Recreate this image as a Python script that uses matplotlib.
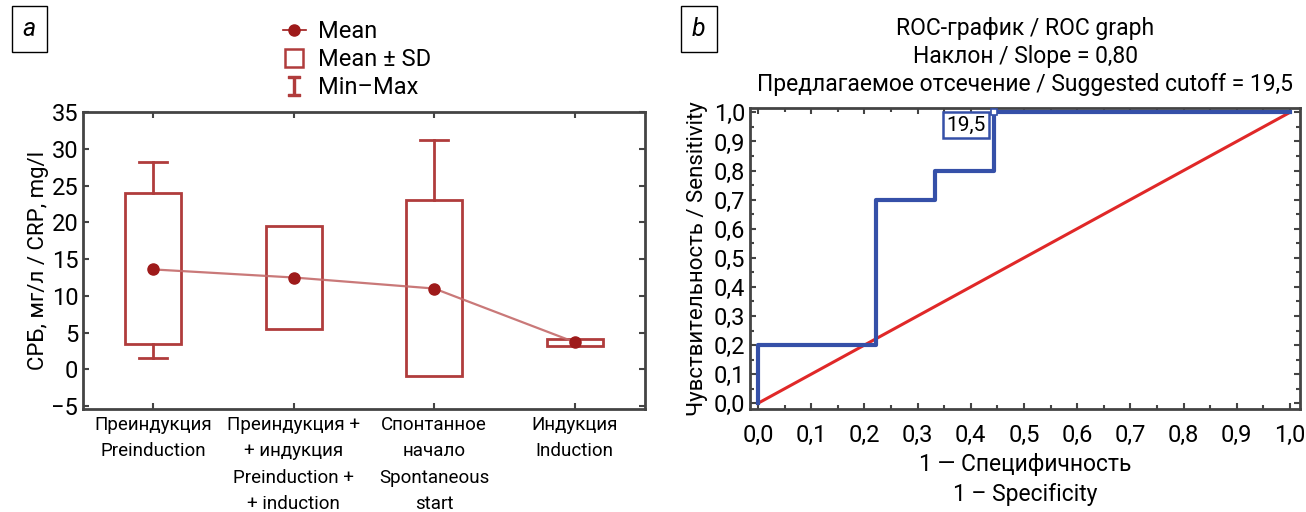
import numpy as np
import matplotlib
matplotlib.use("Agg")
import matplotlib.pyplot as plt
from matplotlib.lines import Line2D
from matplotlib.patches import Rectangle
from matplotlib.ticker import MultipleLocator, FuncFormatter

plt.rcParams['font.family'] = ['Liberation Sans Narrow', 'Roboto', 'DejaVu Sans']

# panel a: CRP by group
groups = ["Преиндукция\nPreinduction",
          "Преиндукция +\n+ индукция\nPreinduction +\n+ induction",
          "Спонтанное\nначало\nSpontaneous\nstart",
          "Индукция\nInduction"]
crp_mean = [13.6, 12.5, 11.0, 3.7]
crp_sd_low = [3.5, 5.5, -0.9, 3.2]
crp_sd_high = [24.0, 19.5, 23.0, 4.1]
crp_min = [1.5, 5.5, -0.9, 3.2]
crp_max = [28.2, 19.5, 31.2, 4.1]

# panel b: ROC curve
roc_fpr = [0.0, 0.0, 0.222, 0.222, 0.333, 0.333, 0.444, 0.444, 1.0]
roc_tpr = [0.0, 0.2, 0.2, 0.7, 0.7, 0.8, 0.8, 1.0, 1.0]
cutoff_fpr = 0.444
cutoff_tpr = 1.0
cutoff_label = "19,5"

RED = '#b03c3c'
DARKRED = '#9e1a1a'
BLUE = '#3550a8'
SPINE = '#444444'

fig = plt.figure(figsize=(13.06, 5.12), dpi=100)

# ---------- panel a ----------
ax1 = fig.add_axes([0.0636, 0.201, 0.4303, 0.580])
x = np.arange(1, len(groups) + 1)
bw = 0.4
cw = 0.2
for xi, lo, hi, mn, mx in zip(x, crp_sd_low, crp_sd_high, crp_min, crp_max):
    ax1.add_patch(Rectangle((xi - bw / 2, lo), bw, hi - lo, fill=False,
                            ec=RED, lw=2, zorder=2))
    if mx > hi:
        ax1.plot([xi, xi], [hi, mx], color=RED, lw=2, zorder=2)
        ax1.plot([xi - cw / 2, xi + cw / 2], [mx, mx], color=RED, lw=2, zorder=2)
    if mn < lo:
        ax1.plot([xi, xi], [lo, mn], color=RED, lw=2, zorder=2)
        ax1.plot([xi - cw / 2, xi + cw / 2], [mn, mn], color=RED, lw=2, zorder=2)
ax1.plot(x, crp_mean, color='#c46a6a', lw=1.6, alpha=0.9, zorder=3)
ax1.plot(x, crp_mean, 'o', color=DARKRED, ms=8, zorder=4)

ax1.set_xlim(0.5, 4.5)
ax1.set_ylim(-5.4, 35)
ax1.set_yticks(range(-5, 36, 5))
ax1.set_yticklabels(['\u22125' if v < 0 else str(v) for v in range(-5, 36, 5)])
ax1.set_xticks(x)
ax1.set_xticklabels(groups, fontsize=13.5, linespacing=1.6)
ax1.tick_params(axis='y', labelsize=17)
ax1.tick_params(axis='x', pad=5)
ax1.tick_params(direction='in', top=True, right=True, length=4, width=1.5,
                color=SPINE)
for s in ax1.spines.values():
    s.set_color(SPINE)
    s.set_linewidth(2)
ax1.set_ylabel("СРБ, мг/л / CRP, mg/l", fontsize=16, labelpad=2)

handles = [
    Line2D([], [], color=DARKRED, marker='o', ms=8, lw=1.2),
    Line2D([], [], color=RED, marker='s', ms=13, mfc='none', mew=1.8, lw=0),
    Line2D([], [], color=RED, marker=r'$\mathtt{I}$', ms=15, lw=0),
]
ax1.legend(handles, ["Mean", "Mean ± SD", "Min\u2013Max"], loc='lower left',
           bbox_to_anchor=(0.33, 0.995), frameon=False, fontsize=17,
           handlelength=1.0, handletextpad=0.5, labelspacing=0.22,
           borderaxespad=0.2)

fig.text(0.0225, 0.943, "a", fontsize=18, style='italic', ha='center', va='center',
         bbox=dict(boxstyle='square,pad=0.45', fc='white', ec='black', lw=1))

# ---------- panel b ----------
ax2 = fig.add_axes([0.5743, 0.201, 0.4211, 0.588])
ax2.plot([0, 1], [0, 1], color='#e02828', lw=2.2, zorder=2)
ax2.plot(roc_fpr, roc_tpr, color=BLUE, lw=3, zorder=3)
ax2.plot([cutoff_fpr], [cutoff_tpr], 's', ms=5, mfc='white', mec=BLUE, mew=1.2, zorder=4)
ax2.text(cutoff_fpr - 0.053, cutoff_tpr - 0.043, cutoff_label, fontsize=15,
         ha='center', va='center', zorder=5,
         bbox=dict(boxstyle='square,pad=0.15', fc='white', ec=BLUE, lw=1.8))

ax2.set_xlim(-0.015, 1.019)
ax2.set_ylim(-0.02, 1.015)
comma = FuncFormatter(lambda v, p: f"{v:.1f}".replace('.', ','))
for axis in (ax2.xaxis, ax2.yaxis):
    axis.set_major_locator(MultipleLocator(0.1))
    axis.set_minor_locator(MultipleLocator(0.05))
    axis.set_major_formatter(comma)
ax2.tick_params(which='both', direction='in', top=True, right=True,
                color=SPINE, width=1.5, labelsize=17)
ax2.tick_params(which='major', length=4)
ax2.tick_params(which='minor', length=3)
ax2.tick_params(axis='x', which='major', pad=11)
for s in ax2.spines.values():
    s.set_color(SPINE)
    s.set_linewidth(2)
ax2.set_title("ROC-график / ROC graph\nНаклон / Slope = 0,80\n"
              "Предлагаемое отсечение / Suggested cutoff = 19,5",
              fontsize=16.5, linespacing=1.3, pad=12)
ax2.set_ylabel("Чувствительность / Sensitivity", fontsize=16, labelpad=4)
ax2.set_xlabel("1 \u2014 Специфичность\n1 \u2013 Specificity", fontsize=16.5,
               linespacing=1.38, labelpad=4)

fig.text(0.535, 0.943, "b", fontsize=18, style='italic', ha='center', va='center',
         bbox=dict(boxstyle='square,pad=0.45', fc='white', ec='black', lw=1))

fig.savefig("out.png", dpi=100)
